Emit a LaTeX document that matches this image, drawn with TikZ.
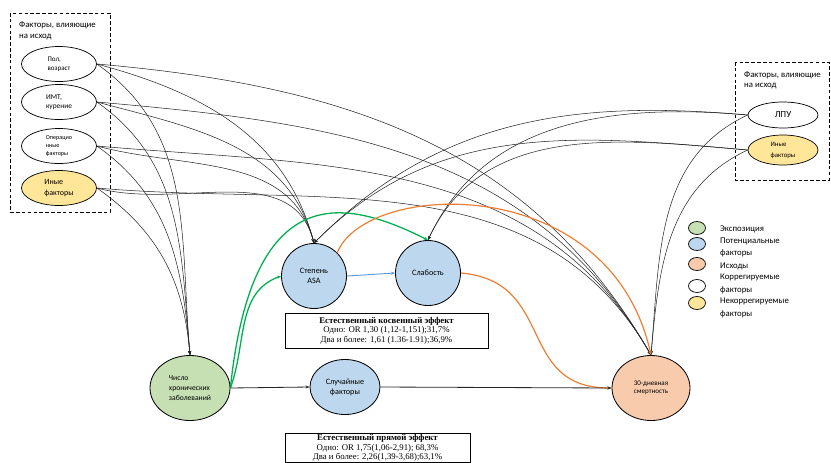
\documentclass[tikz,border=0pt]{standalone}
\usepackage{fontspec}
\setmainfont{Carlito}
\newfontfamily\boxfont{Liberation Serif}
\usetikzlibrary{shapes.geometric,arrows.meta}
\definecolor{expcol}{RGB}{198,224,180}
\definecolor{potcol}{RGB}{189,215,238}
\definecolor{outcol}{RGB}{248,203,173}
\definecolor{nonadj}{RGB}{255,230,153}
\definecolor{grcol}{RGB}{0,176,80}
\definecolor{orcol}{RGB}{237,125,49}
\definecolor{blcol}{RGB}{91,155,213}

\begin{document}
\begin{tikzpicture}[x=0.3mm,y=-0.3mm,
  conf/.style={draw,ellipse,line width=0.6pt,minimum width=22.5mm,minimum height=10.5mm,inner sep=0pt,align=left},
  med/.style={draw,ellipse,line width=0.7pt,fill=potcol,minimum width=19.5mm,minimum height=19.5mm,inner sep=0pt,align=center,font=\fontsize{7}{8.5}\selectfont},
  lnk/.style={-{Stealth[length=3.5pt,width=2.6pt]},line width=0.45pt,black!85},
  grn/.style={lnk,draw=grcol,line width=1.1pt},
  org/.style={lnk,draw=orcol,line width=1pt},
  resbox/.style={draw,line width=0.8pt,align=center,inner sep=0pt,font=\boxfont\fontsize{7.5}{8.1}\selectfont},
  keyell/.style={draw,ellipse,line width=0.6pt,minimum width=5.1mm,minimum height=3.9mm},
  note/.style={anchor=west,align=left,font=\fontsize{7.5}{10.5}\selectfont},
  grp/.style={draw,dashed,dash pattern=on 3pt off 2pt,line width=0.6pt}]
\useasboundingbox (0,0) rectangle (831,462);

\draw[grp] (10,13) rectangle (110,212);
\node[anchor=north west,align=left,font=\fontsize{7.5}{10.2}\selectfont] (ttlL) at (15,17) {Факторы, влияющие\\на исход};
\node[conf,font=\fontsize{6}{7.7}\selectfont] (pol) at (59,64) {Пол,\\возраст};
\node[conf,font=\fontsize{6.3}{7.9}\selectfont] (imt) at (59,102) {ИМТ,\\курение};
\node[conf,font=\fontsize{5.2}{7.2}\selectfont] (oper) at (59,146) {Операцио\\нные\\факторы};
\node[conf,fill=nonadj,font=\fontsize{6.8}{10}\selectfont] (inyeL) at (59,188) {Иные\\факторы};

\draw[grp] (735,62) rectangle (829,180);
\node[anchor=north west,align=left,font=\fontsize{7.5}{9}\selectfont] (ttlR) at (740,67) {Факторы, влияющие\\на исход};
\node[conf,minimum width=21mm,minimum height=7.8mm,font=\fontsize{8}{9}\selectfont] (lpu) at (783,115) {ЛПУ};
\node[conf,fill=nonadj,minimum width=21mm,minimum height=9mm,font=\fontsize{5.8}{9.4}\selectfont] (inyeR) at (783,150) {Иные\\факторы};

\node[med] (asa) at (314,276) {Степень\\ASA};
\node[med] (slab) at (428,273) {Слабость};
\node[med,minimum width=21mm,minimum height=16.5mm] (sluch) at (345,387) {Случайные\\факторы};
\node[med,fill=expcol,minimum width=24mm,minimum height=19.5mm,align=left,font=\fontsize{6.5}{8.5}\selectfont] (chron) at (190,388) {Число\\хронических\\заболеваний};
\node[med,fill=outcol,minimum width=23.4mm,minimum height=19.5mm,font=\fontsize{6}{7}\selectfont] (death) at (651,388) {30-дневная\\смертность};

\node[resbox,minimum width=60.9mm,minimum height=10.5mm] (indir) at (386.5,330.5) {\textbf{Естественный косвенный эффект}\\Одно: OR 1,30 (1,12-1,151);31,7\%\\Два и более: 1,61 (1.36-1.91);36,9\%};
\node[resbox,anchor=north,minimum width=55.5mm,inner ysep=1pt] (direct) at (377.5,433) {\textbf{Естественный прямой эффект}\\Одно: OR 1,75(1,06-2,91); 68,3\%\\Два и более: 2,26(1,39-3,68);63,1\%};

\foreach \src in {pol,imt,oper,inyeL}{
  \draw[lnk] (\src.east) to[out=-35,in=95] (chron.north);
  \draw[lnk] (\src.east) to[out=-15,in=105] (asa.north);
  \draw[lnk] (\src.east) to[out=-5,in=120] (death.north);
}
\foreach \src in {lpu,inyeR}{
  \draw[lnk] (\src.west) to[out=175,in=45] (asa.north);
  \draw[lnk] (\src.west) to[out=175,in=65] (slab.north);
  \draw[lnk] (\src.west) to[out=205,in=85] (death.north);
}

\draw[grn] (chron.east) to[out=70,in=200] (asa.west);
\draw[grn] (chron.east) .. controls +(22,-213) and +(-80,-40) .. (slab.north);
\draw[lnk,draw=blcol,line width=0.8pt] (asa.east) -- (slab.west);
\draw[org] (asa.45) .. controls +(28,-72) and +(-41,-185) .. (death.north);
\draw[org] (slab.east) to[out=-5,in=180,looseness=1.3] (death.west);
\draw[lnk,line width=0.7pt] (chron.east) -- (sluch.west);
\draw[lnk,line width=0.7pt] (sluch.east) -- (death.west);

\node[keyell,fill=expcol] (kexp) at (697,228) {};
\node[keyell,fill=potcol] (kpot) at (697,244) {};
\node[keyell,fill=outcol] (kout) at (697,264) {};
\node[keyell] (kadj) at (697,286) {};
\node[keyell,fill=nonadj] (knon) at (697,303) {};
\node[note] (lexp) at (716,229) {Экспозиция};
\node[note] (lpot) at (716,247.5) {Потенциальные\\факторы};
\node[note] (lout) at (716,266) {Исходы};
\node[note] (ladj) at (716,284) {Коррегируемые\\факторы};
\node[note] (lnon) at (716,308) {Некоррегируемые\\факторы};
\end{tikzpicture}
\end{document}
